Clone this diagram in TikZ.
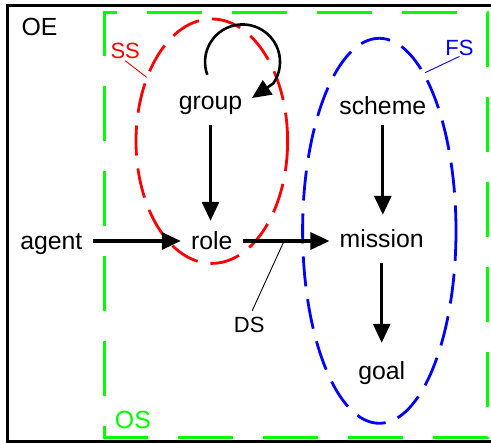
\documentclass[tikz,border=0pt]{standalone}
\usepackage{fontspec}
\setmainfont{Liberation Sans}
\usetikzlibrary{arrows.meta}
\definecolor{osgreen}{RGB}{0,255,0}
\definecolor{ssred}{RGB}{255,0,0}
\definecolor{fsblue}{RGB}{0,0,255}
\begin{document}
\begin{tikzpicture}[x=1pt,y=-1pt,
  concept/.style={font=\fontsize{24.8}{28}\selectfont, text height=23pt, text depth=5pt,
                  inner xsep=10pt, inner ysep=10pt, anchor=base},
  biglabel/.style={font=\fontsize{24.8}{28}\selectfont, inner sep=0pt, anchor=base},
  smalllabel/.style={font=\fontsize{22}{26}\selectfont, inner sep=0pt, anchor=base},
  arr/.style={line width=3.1pt, -{Triangle[length=19pt,width=17pt]}},
  frame/.style={line width=3pt, black},
  greenbox/.style={line width=3pt, osgreen, dash pattern=on 55pt off 30pt},
  ssell/.style={line width=2.8pt, ssred, dash pattern=on 30pt off 13pt},
  fsell/.style={line width=2.8pt, fsblue, dash pattern=on 30pt off 13pt},
  pointer/.style={line width=0.9pt}
]
\useasboundingbox (0,0) rectangle (491,443);

% outer environment frame (right side outside the picture)
\draw[frame] (493,5.8) -- (7.5,5.8) -- (7.5,441.2) -- (493,441.2);

% organisational specification (green dashed box)
\draw[greenbox] (115.3,12.3) -- (104.3,12.3) -- (104.3,437.3) -- (487.7,437.3) -- (487.7,12.3) -- cycle;

% structural and functional specification ellipses
\draw[ssell] (211.8,141.2) ellipse[x radius=75.8, y radius=122.2];
\draw[fsell] (379.3,230.8) ellipse[x radius=76.7, y radius=192.5];

% concept nodes
\node[concept] (group)   at (210.5,110) {group};
\node[concept] (scheme)  at (382.8,115) {scheme};
\node[concept] (agent)   at (51.3,250)  {agent};
\node[concept] (role)    at (211.7,250) {role};
\node[concept] (mission) at (381.7,248) {mission};
\node[concept] (goal)    at (381.7,380) {goal};

% labels
\node[biglabel] (oe) at (39.5,36) {OE};
\node[biglabel, text=osgreen] (os) at (132.9,428.3) {OS};
\node[smalllabel, text=ssred, inner sep=2pt] (ss) at (125.2,58.3) {SS};
\node[smalllabel, text=fsblue] (fs) at (459.5,56) {FS};
\node[smalllabel, inner sep=6pt] (ds) at (249.2,332.3) {DS};

% pointer lines of labels
\coordinate (sstip) at (146.7,77.3);
\coordinate (fstip) at (425,72.7);
\coordinate (dstip) at (283.3,242.7);
\draw[pointer, ssred] (ss.south) -- (sstip);
\draw[pointer, fsblue] (fs.south) -- (fstip);
\draw[pointer, black] ([xshift=3pt]ds.north) -- (dstip);

% connectors
\draw[arr] (agent.east) -- (role.west);
\draw[arr] (role.east) -- (role.east -| mission.west);
\draw[arr, shorten >=-4pt] (group.south) -- (group.south |- role.north);
\draw[arr, shorten <=-5pt] (scheme.south) -- (scheme.south |- mission.north);
\draw[arr, shorten >=4pt] (mission.south) -- (mission.south |- goal.north);

% self loop on group
\coordinate (loopstart) at (207.3,74.8);
\coordinate (loopend) at (252,98);
\draw[arr, line width=2.6pt] (loopstart) arc[start angle=160, end angle=395, radius=37.5] -- (loopend);
\end{tikzpicture}
\end{document}
